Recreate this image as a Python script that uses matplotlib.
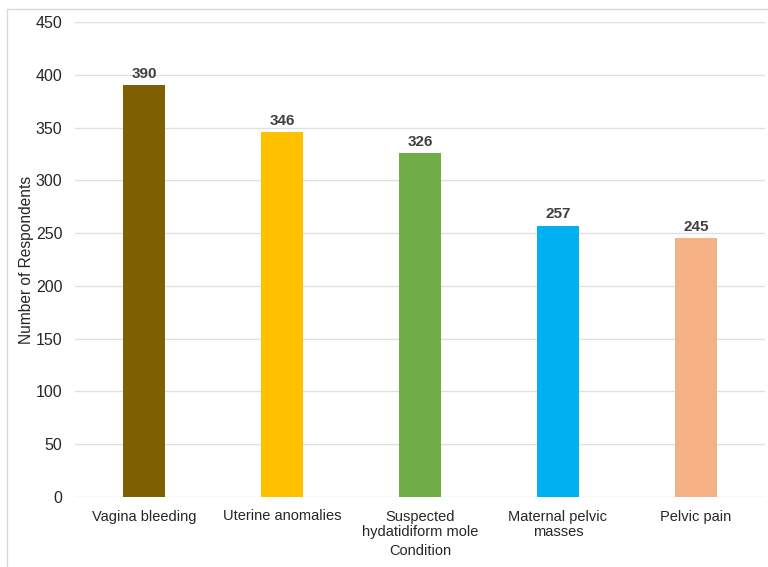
import matplotlib
matplotlib.use("Agg")
import matplotlib.pyplot as plt
from matplotlib.patches import Rectangle

categories = ["Vagina bleeding", "Uterine anomalies", "Suspected\nhydatidiform mole",
              "Maternal pelvic\nmasses", "Pelvic pain"]
values = [390, 346, 326, 257, 245]
colors = ["#7F6000", "#FFC000", "#70AD47", "#00B0F0", "#F4B183"]
yticks = [0, 50, 100, 150, 200, 250, 300, 350, 400, 450]

plt.rcParams["font.family"] = ["Liberation Sans", "DejaVu Sans"]

fig = plt.figure(figsize=(7.68, 5.67), dpi=100)
ax = fig.add_axes([75 / 768, 1 - 497 / 567, 690 / 768, 475 / 567])

x = list(range(len(categories)))
ax.bar(x, values, width=0.31, color=colors, zorder=3)
for xi, v in zip(x, values):
    ax.text(xi, v + 4, str(v), ha="center", va="bottom", fontsize=11,
            fontweight="bold", color="#404040", zorder=4)

ax.set_xlim(-0.5, len(categories) - 0.5)
ax.set_ylim(0, 450)
ax.set_yticks(yticks)
ax.set_xticks(x)
ax.set_xticklabels(categories, fontsize=10.5, color="#262626", linespacing=1.1)
ax.tick_params(axis="y", labelsize=11.5, labelcolor="#262626", length=0, pad=9)
ax.tick_params(axis="x", length=0, pad=9)
ax.grid(axis="y", color="#E0E0E0", linewidth=1, zorder=0)
for s in ax.spines.values():
    s.set_visible(False)

ax.set_ylabel("Number of Respondents", fontsize=11.2, color="#262626")
ax.yaxis.set_label_coords(-0.0594, 0.5)
ax.set_xlabel("Condition", fontsize=10.5, color="#262626", labelpad=4)

fig.patches.append(Rectangle((7 / 768, -0.1), 1.1, 1 - 9 / 567 + 0.1,
                             transform=fig.transFigure, fill=False,
                             edgecolor="#D9D9D9", linewidth=1))

fig.savefig("out.png", dpi=100)
